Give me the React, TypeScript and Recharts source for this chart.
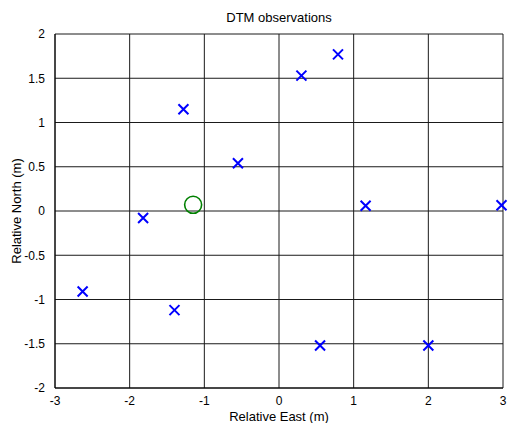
import React from 'react';
import { ScatterChart, Scatter, XAxis, YAxis, CartesianGrid, Customized } from 'recharts';

const xTicks = [-3, -2, -1, 0, 1, 2, 3];
const yTicks = [-2, -1.5, -1, -0.5, 0, 0.5, 1, 1.5, 2];

const obsEast = [-1.28, 0.3, 0.79, -0.55, -1.82, 1.16, 2.98, -2.63, -1.4, 0.55, 2.0];
const obsNorth = [1.15, 1.53, 1.77, 0.54, -0.08, 0.06, 0.065, -0.91, -1.12, -1.52, -1.52];

const refEast = [-1.15];
const refNorth = [0.07];

const observations = obsEast.map((x, i) => ({ x, y: obsNorth[i] }));
const reference = refEast.map((x, i) => ({ x, y: refNorth[i] }));

const font = '"Liberation Sans", Arial, sans-serif';

const Cross = (p: any) => (
    <path
        d={`M${p.cx - 5},${p.cy - 5}L${p.cx + 5},${p.cy + 5}M${p.cx + 5},${p.cy - 5}L${p.cx - 5},${p.cy + 5}`}
        stroke="#0000ff"
        strokeWidth={2}
        fill="none"
    />
);

const Ring = (p: any) => <circle cx={p.cx} cy={p.cy} r={8.5} stroke="#008000" strokeWidth={1.6} fill="none" />;

const Labels = () => (
    <g fontFamily={font} fontSize={13} fill="#000">
        <text x={279} y={22} textAnchor="middle">DTM observations</text>
        <text x={279} y={421} textAnchor="middle">Relative East (m)</text>
        <text x={21} y={211} textAnchor="middle" transform="rotate(-90 21 211)">Relative North (m)</text>
    </g>
);

const App = () => {
    return (
        <div style={{ position: 'absolute', left: 0, top: 0, width: 509, height: 423, background: '#fff' }}>
            <ScatterChart width={509} height={423} margin={{ top: 34, right: 6, bottom: 0, left: 0 }}>
                <CartesianGrid stroke="#1a1a1a" strokeWidth={1} horizontalValues={yTicks} verticalValues={xTicks} />
                <XAxis
                    type="number"
                    dataKey="x"
                    domain={[-3, 3]}
                    ticks={xTicks}
                    height={35}
                    tickLine={false}
                    axisLine={{ stroke: '#000' }}
                    tick={{ fill: '#000', fontSize: 12, fontFamily: font }}
                    tickMargin={2}
                />
                <YAxis
                    type="number"
                    dataKey="y"
                    domain={[-2, 2]}
                    ticks={yTicks}
                    width={55}
                    tickLine={false}
                    axisLine={{ stroke: '#000' }}
                    tick={{ fill: '#000', fontSize: 12, fontFamily: font }}
                    tickMargin={4}
                />
                <Scatter data={observations} shape={Cross} isAnimationActive={false} />
                <Scatter data={reference} shape={Ring} isAnimationActive={false} />
                <Customized component={Labels} />
            </ScatterChart>
        </div>
    );
};

export default App;
